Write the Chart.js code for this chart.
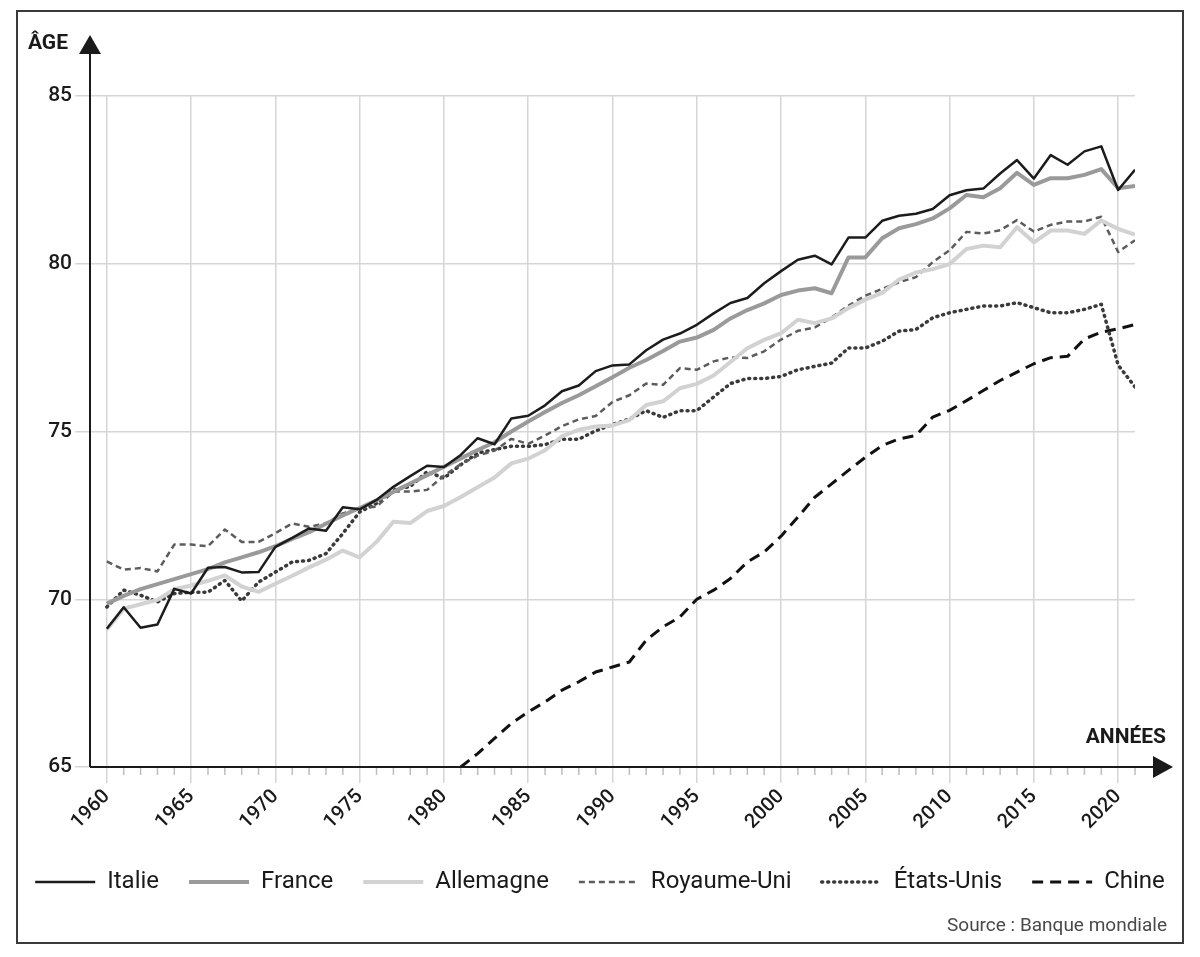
<!DOCTYPE html>
<html lang="fr">
<head>
<meta charset="utf-8">
<script src="https://cdn.jsdelivr.net/npm/chart.js@4/dist/chart.umd.min.js"></script>
<style>
  html, body { margin: 0; padding: 0; background: #fff; }
  #wrap { width: 1200px; height: 957px; }
</style>
</head>
<body>
<div id="wrap"><canvas id="lifeChart" width="1200" height="957"></canvas></div>
<script>
// Espérance de vie à la naissance, 1960-2021 (Banque mondiale)
const years = [1960,1961,1962,1963,1964,1965,1966,1967,1968,1969,
  1970,1971,1972,1973,1974,1975,1976,1977,1978,1979,
  1980,1981,1982,1983,1984,1985,1986,1987,1988,1989,
  1990,1991,1992,1993,1994,1995,1996,1997,1998,1999,
  2000,2001,2002,2003,2004,2005,2006,2007,2008,2009,
  2010,2011,2012,2013,2014,2015,2016,2017,2018,2019,
  2020,2021];

const italie = [69.12,69.76,69.15,69.25,70.31,70.17,70.94,70.96,70.8,70.81,
  71.56,71.83,72.11,72.04,72.74,72.68,72.96,73.35,73.67,73.98,
  73.94,74.3,74.8,74.62,75.39,75.47,75.78,76.2,76.37,76.8,
  76.97,77.0,77.42,77.74,77.92,78.18,78.52,78.83,78.98,79.42,
  79.78,80.12,80.24,79.98,80.78,80.78,81.28,81.43,81.49,81.63,
  82.04,82.19,82.24,82.69,83.09,82.54,83.24,82.95,83.35,83.5,
  82.2,82.8];

const france = [69.87,70.1,70.3,70.45,70.6,70.75,70.9,71.1,71.25,71.4,
  71.58,71.8,72.0,72.25,72.5,72.72,72.95,73.2,73.45,73.7,
  73.95,74.2,74.45,74.68,75.0,75.3,75.58,75.85,76.08,76.35,
  76.62,76.9,77.13,77.4,77.68,77.8,78.03,78.37,78.62,78.82,
  79.07,79.2,79.27,79.12,80.19,80.19,80.76,81.06,81.18,81.35,
  81.65,82.05,81.98,82.25,82.71,82.35,82.55,82.55,82.65,82.82,
  82.25,82.32];

const allemagne = [69.1,69.72,69.85,69.98,70.3,70.41,70.55,70.71,70.38,70.22,
  70.46,70.7,70.95,71.18,71.45,71.25,71.71,72.31,72.27,72.63,
  72.78,73.05,73.34,73.63,74.05,74.19,74.44,74.86,75.05,75.15,
  75.18,75.34,75.79,75.9,76.29,76.42,76.67,77.07,77.48,77.73,
  77.93,78.33,78.23,78.37,78.68,78.93,79.13,79.53,79.74,79.84,
  79.99,80.44,80.54,80.49,81.09,80.64,80.99,80.99,80.89,81.29,
  81.04,80.87];

const royaumeUni = [71.13,70.88,70.93,70.83,71.63,71.63,71.58,72.08,71.71,71.71,
  71.97,72.26,72.16,72.26,72.56,72.71,72.76,73.21,73.21,73.26,
  73.68,74.03,74.28,74.43,74.78,74.63,74.88,75.16,75.36,75.46,
  75.88,76.08,76.43,76.39,76.89,76.84,77.09,77.21,77.19,77.39,
  77.74,78.0,78.1,78.4,78.75,79.05,79.25,79.45,79.6,80.05,
  80.4,80.95,80.9,81.0,81.3,80.96,81.16,81.26,81.26,81.4,
  80.35,80.7];

const etatsUnis = [69.77,70.27,70.12,69.92,70.17,70.21,70.21,70.56,69.95,70.51,
  70.81,71.11,71.16,71.36,71.96,72.6,72.86,73.26,73.36,73.8,
  73.61,74.01,74.36,74.46,74.56,74.56,74.61,74.77,74.77,75.02,
  75.21,75.37,75.62,75.42,75.62,75.62,76.03,76.43,76.58,76.58,
  76.64,76.84,76.94,77.04,77.49,77.49,77.69,77.99,78.04,78.39,
  78.54,78.64,78.74,78.74,78.84,78.69,78.54,78.54,78.64,78.79,
  76.98,76.33];

// below 65 before 1981: off the chart
const chine = [null,null,null,null,null,null,null,null,null,null,
  null,null,null,null,null,null,null,null,null,null,
  null,65.0,65.4,65.85,66.3,66.64,66.94,67.29,67.54,67.83,
  67.98,68.13,68.78,69.18,69.47,70.0,70.27,70.62,71.11,71.41,
  71.88,72.45,73.04,73.44,73.84,74.23,74.58,74.78,74.88,75.43,
  75.63,75.92,76.22,76.52,76.77,77.02,77.2,77.24,77.76,77.96,
  78.06,78.19];

const yTicks = [65, 70, 75, 80, 85];

const FONT = 'Roboto, "DejaVu Sans", sans-serif';
const GRID = '#d6d6d6';
const INK = '#1a1a1a';

function pts(values) {
  return years.map((y, i) => ({ x: y, y: values[i] }));
}

function series(label, values, color, width, dash, cap) {
  return {
    label: label,
    data: pts(values),
    borderColor: color,
    backgroundColor: color,
    borderWidth: width,
    borderDash: dash || [],
    borderCapStyle: cap || 'butt',
    borderJoinStyle: 'round',
    pointRadius: 0,
    pointHoverRadius: 0,
    tension: 0,
    spanGaps: false
  };
}

// frame, axes with arrows, minor year ticks, axis titles, source
const decor = {
  id: 'decor',
  beforeDraw(chart) {
    const c = chart.ctx;
    c.save();
    c.fillStyle = '#fff';
    c.fillRect(0, 0, chart.width, chart.height);
    c.strokeStyle = '#3a3a3a';
    c.lineWidth = 2;
    c.strokeRect(17, 11, 1166, 932);
    c.restore();
  },
  afterDatasetsDraw(chart) {
    const c = chart.ctx;
    const a = chart.chartArea;
    const xs = chart.scales.x;
    c.save();

    // minor ticks, one per year
    c.strokeStyle = '#bdbdbd';
    c.lineWidth = 1.5;
    years.forEach(y => {
      if (y % 5 === 0) return;
      const px = xs.getPixelForValue(y);
      c.beginPath();
      c.moveTo(px, a.bottom);
      c.lineTo(px, a.bottom + 8);
      c.stroke();
    });

    // axis lines
    c.strokeStyle = INK;
    c.lineWidth = 2;
    c.beginPath();
    c.moveTo(a.left, a.bottom);
    c.lineTo(a.left, a.top - 45);
    c.moveTo(a.left, a.bottom);
    c.lineTo(a.right + 25, a.bottom);
    c.stroke();

    // arrow heads
    c.fillStyle = INK;
    c.beginPath();
    c.moveTo(a.left, a.top - 61);
    c.lineTo(a.left - 11, a.top - 42);
    c.lineTo(a.left + 11, a.top - 42);
    c.closePath();
    c.fill();
    c.beginPath();
    c.moveTo(a.right + 38, a.bottom);
    c.lineTo(a.right + 18, a.bottom - 11);
    c.lineTo(a.right + 18, a.bottom + 11);
    c.closePath();
    c.fill();

    // axis titles
    c.font = 'bold 21px ' + FONT;
    c.textBaseline = 'alphabetic';
    c.textAlign = 'right';
    c.fillText('ÂGE', 68, 49);
    c.fillText('ANNÉES', 1166, 743);

    // source
    c.font = '19px ' + FONT;
    c.fillStyle = '#4a4a4a';
    c.fillText('Source : Banque mondiale', 1167, 931);
    c.restore();
  }
};

new Chart(document.getElementById('lifeChart'), {
  type: 'line',
  data: {
    datasets: [
      series('Italie', italie, '#1c1c1c', 2.5),
      series('France', france, '#9a9a9a', 4),
      series('Allemagne', allemagne, '#d2d2d2', 4),
      series('Royaume-Uni', royaumeUni, '#5c5c5c', 2.5, [6, 4]),
      series('États-Unis', etatsUnis, '#3a3a3a', 3.5, [1, 5], 'round'),
      series('Chine', chine, '#111111', 3, [11, 7])
    ]
  },
  plugins: [decor],
  options: {
    responsive: false,
    animation: false,
    events: [],
    layout: { padding: { top: 96, left: 0, right: 0, bottom: 53 } },
    scales: {
      x: {
        type: 'linear',
        min: 1959,
        max: 2021,
        border: { display: false },
        grid: {
          color: ctx => (ctx.tick && ctx.tick.value % 5 === 0) ? GRID : 'rgba(0,0,0,0)',
          tickColor: ctx => (ctx.tick && ctx.tick.value % 5 === 0) ? GRID : 'rgba(0,0,0,0)',
          lineWidth: 1.5,
          tickLength: 16
        },
        ticks: {
          stepSize: 1,
          autoSkip: false,
          minRotation: 45,
          maxRotation: 45,
          padding: 2,
          color: INK,
          font: { family: FONT, size: 20, weight: '500' },
          callback: v => (v % 5 === 0 && v >= 1960) ? String(v) : ''
        },
        afterFit: s => { s.height = 73; }
      },
      y: {
        min: 65,
        max: 85,
        border: { display: false },
        afterBuildTicks: s => { s.ticks = yTicks.map(v => ({ value: v })); },
        grid: {
          color: GRID,
          tickColor: GRID,
          lineWidth: 1.5,
          tickLength: 15
        },
        ticks: {
          padding: 3,
          color: INK,
          font: { family: FONT, size: 21, weight: '500' }
        },
        afterFit: s => { s.width = 90; }
      },
      yr: {
        position: 'right',
        display: true,
        border: { display: false },
        grid: { display: false },
        ticks: { display: false },
        afterFit: s => { s.width = 65; }
      }
    },
    plugins: {
      tooltip: { enabled: false },
      legend: {
        position: 'bottom',
        labels: {
          usePointStyle: true,
          pointStyleWidth: 60,
          padding: 30,
          color: INK,
          font: { family: FONT, size: 24 },
          generateLabels: chart => {
            const items = Chart.defaults.plugins.legend.labels.generateLabels(chart);
            items.forEach(it => {
              const ds = chart.data.datasets[it.datasetIndex];
              it.pointStyle = 'line';
              it.strokeStyle = ds.borderColor;
              it.lineWidth = ds.borderWidth;
              it.lineDash = ds.borderDash;
              it.lineCap = ds.borderCapStyle;
            });
            return items;
          }
        }
      }
    }
  }
});
</script>
</body>
</html>
